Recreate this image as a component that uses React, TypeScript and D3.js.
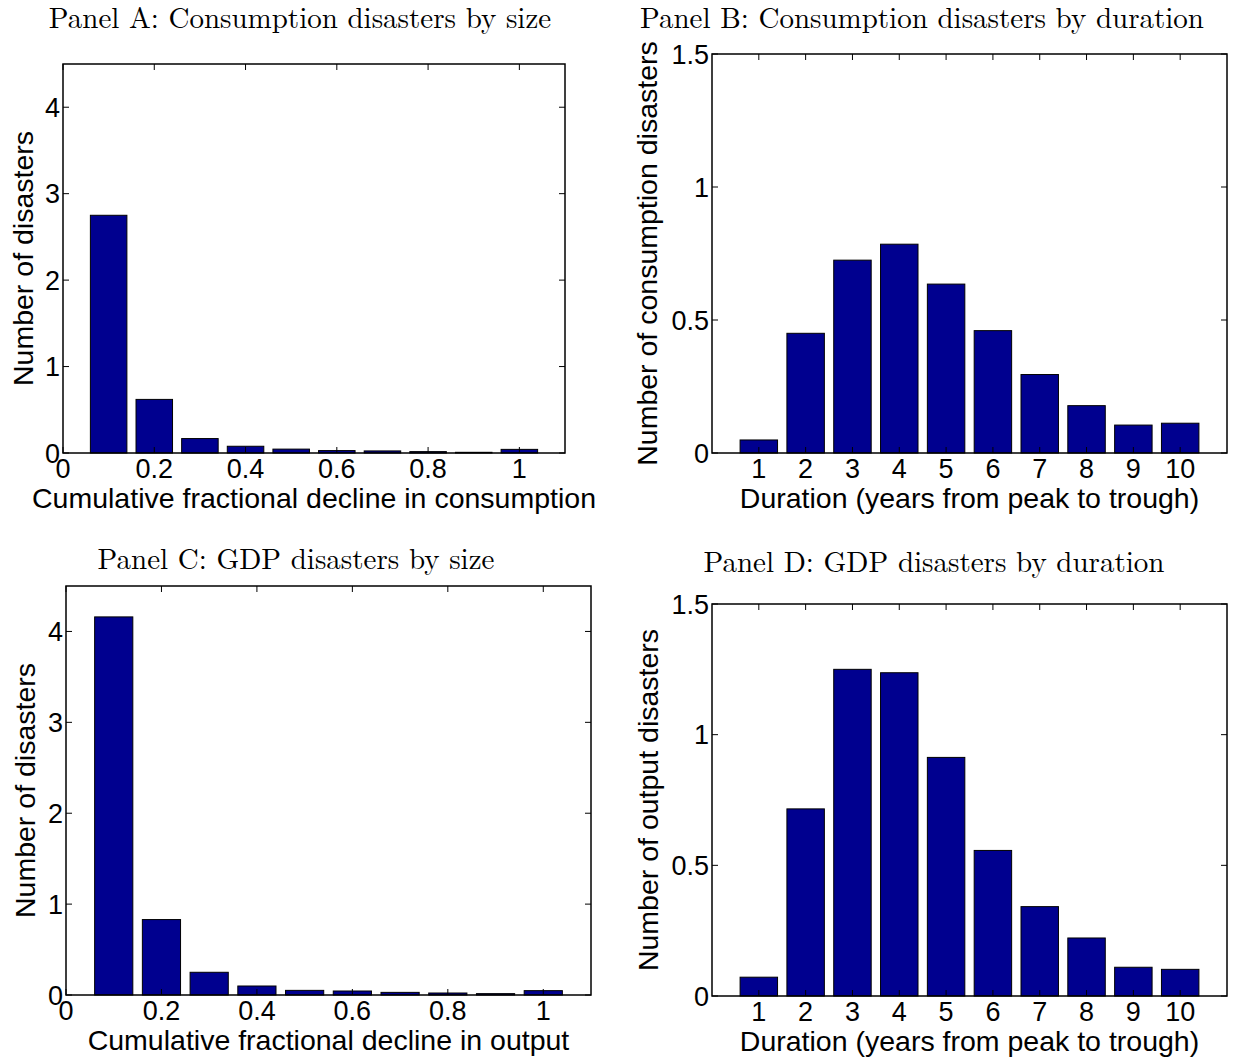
import React from "react";
import * as d3 from "d3";

const WIDTH = 1235;
const HEIGHT = 1064;

// bar positions (bin centres) and tick values
const sizeBins = [0.1, 0.2, 0.3, 0.4, 0.5, 0.6, 0.7, 0.8, 0.9, 1.0];
const durationBins = [1, 2, 3, 4, 5, 6, 7, 8, 9, 10];
const sizeTicks = [0, 0.2, 0.4, 0.6, 0.8, 1];
const sizeCountTicks = [0, 1, 2, 3, 4];
const durationCountTicks = [0, 0.5, 1, 1.5];

// values
const consumptionBySize = [2.75, 0.62, 0.167, 0.078, 0.045, 0.028, 0.024, 0.016, 0.008, 0.042];
const consumptionByDuration = [0.049, 0.45, 0.725, 0.785, 0.635, 0.46, 0.295, 0.178, 0.105, 0.112];
const gdpBySize = [4.16, 0.83, 0.25, 0.099, 0.051, 0.044, 0.029, 0.022, 0.015, 0.048];
const gdpByDuration = [0.072, 0.716, 1.25, 1.237, 0.913, 0.557, 0.342, 0.222, 0.11, 0.102];

const BAR_FILL = "#00008f";
const SERIF = "'Latin Modern Roman', 'Liberation Serif', 'DejaVu Serif', serif";
const SANS = "'Liberation Sans', Arial, Helvetica, sans-serif";
const TICK = 6;

type PanelProps = {
  title: string;
  xLabel: string;
  yLabel: string;
  box: { left: number; right: number; top: number; bottom: number };
  xDomain: [number, number];
  yDomain: [number, number];
  xTicks: number[];
  yTicks: number[];
  bins: number[];
  values: number[];
  titleX: number;
  titleY: number;
  yLabelX: number;
};

function Panel(props: PanelProps) {
  const { box, bins, values } = props;
  const x = d3.scaleLinear().domain(props.xDomain).range([box.left, box.right]);
  const y = d3.scaleLinear().domain(props.yDomain).range([box.bottom, box.top]);
  const barW = x(0.8 * (bins[1] - bins[0])) - x(0);
  const cx = (box.left + box.right) / 2;
  const cy = (box.top + box.bottom) / 2;

  return (
    <g>
      <text
        x={props.titleX}
        y={props.titleY}
        textAnchor="middle"
        fontFamily={SERIF}
        fontSize={29}
        fill="#000"
      >
        {props.title}
      </text>

      {bins.map((b, i) => (
        <rect
          key={i}
          x={x(b) - barW / 2}
          y={y(values[i])}
          width={barW}
          height={y(0) - y(values[i])}
          fill={BAR_FILL}
          stroke="#000"
          strokeWidth={1}
        />
      ))}

      {/* ticks, inward on all four sides */}
      {props.xTicks.map((t) => (
        <g key={"x" + t}>
          <line x1={x(t)} x2={x(t)} y1={box.bottom} y2={box.bottom - TICK} stroke="#000" />
          <line x1={x(t)} x2={x(t)} y1={box.top} y2={box.top + TICK} stroke="#000" />
          <text
            x={x(t)}
            y={box.bottom + 25}
            textAnchor="middle"
            fontFamily={SANS}
            fontSize={27}
          >
            {d3.format("~g")(t)}
          </text>
        </g>
      ))}
      {props.yTicks.map((t) => (
        <g key={"y" + t}>
          <line x1={box.left} x2={box.left + TICK} y1={y(t)} y2={y(t)} stroke="#000" />
          <line x1={box.right} x2={box.right - TICK} y1={y(t)} y2={y(t)} stroke="#000" />
          <text
            x={box.left - 3}
            y={y(t)}
            dy="0.36em"
            textAnchor="end"
            fontFamily={SANS}
            fontSize={27}
          >
            {d3.format("~g")(t)}
          </text>
        </g>
      ))}

      <rect
        x={box.left}
        y={box.top}
        width={box.right - box.left}
        height={box.bottom - box.top}
        fill="none"
        stroke="#000"
        strokeWidth={1.5}
      />

      <text
        x={cx}
        y={box.bottom + 55}
        textAnchor="middle"
        fontFamily={SANS}
        fontSize={28.5}
      >
        {props.xLabel}
      </text>
      <text
        transform={`translate(${props.yLabelX}, ${cy}) rotate(-90)`}
        textAnchor="middle"
        fontFamily={SANS}
        fontSize={28.5}
      >
        {props.yLabel}
      </text>
    </g>
  );
}

export default function App() {
  return (
    <svg
      width={WIDTH}
      height={HEIGHT}
      style={{ display: "block", position: "absolute", left: 0, top: 0 }}
    >
      <rect width={WIDTH} height={HEIGHT} fill="#fff" />
      <Panel
        title="Panel A: Consumption disasters by size"
        xLabel="Cumulative fractional decline in consumption"
        yLabel="Number of disasters"
        box={{ left: 63, right: 565, top: 64, bottom: 453 }}
        xDomain={[0, 1.1]}
        yDomain={[0, 4.5]}
        xTicks={sizeTicks}
        yTicks={sizeCountTicks}
        bins={sizeBins}
        values={consumptionBySize}
        titleX={300}
        titleY={28}
        yLabelX={33}
      />
      <Panel
        title="Panel B: Consumption disasters by duration"
        xLabel="Duration (years from peak to trough)"
        yLabel="Number of consumption disasters"
        box={{ left: 712, right: 1227, top: 54, bottom: 453 }}
        xDomain={[0, 11]}
        yDomain={[0, 1.5]}
        xTicks={durationBins}
        yTicks={durationCountTicks}
        bins={durationBins}
        values={consumptionByDuration}
        titleX={922}
        titleY={28}
        yLabelX={657}
      />
      <Panel
        title="Panel C: GDP disasters by size"
        xLabel="Cumulative fractional decline in output"
        yLabel="Number of disasters"
        box={{ left: 66, right: 591, top: 586, bottom: 995 }}
        xDomain={[0, 1.1]}
        yDomain={[0, 4.5]}
        xTicks={sizeTicks}
        yTicks={sizeCountTicks}
        bins={sizeBins}
        values={gdpBySize}
        titleX={296}
        titleY={569}
        yLabelX={35}
      />
      <Panel
        title="Panel D: GDP disasters by duration"
        xLabel="Duration (years from peak to trough)"
        yLabel="Number of output disasters"
        box={{ left: 712, right: 1227, top: 604, bottom: 996 }}
        xDomain={[0, 11]}
        yDomain={[0, 1.5]}
        xTicks={durationBins}
        yTicks={durationCountTicks}
        bins={durationBins}
        values={gdpByDuration}
        titleX={934}
        titleY={572}
        yLabelX={658}
      />
    </svg>
  );
}
